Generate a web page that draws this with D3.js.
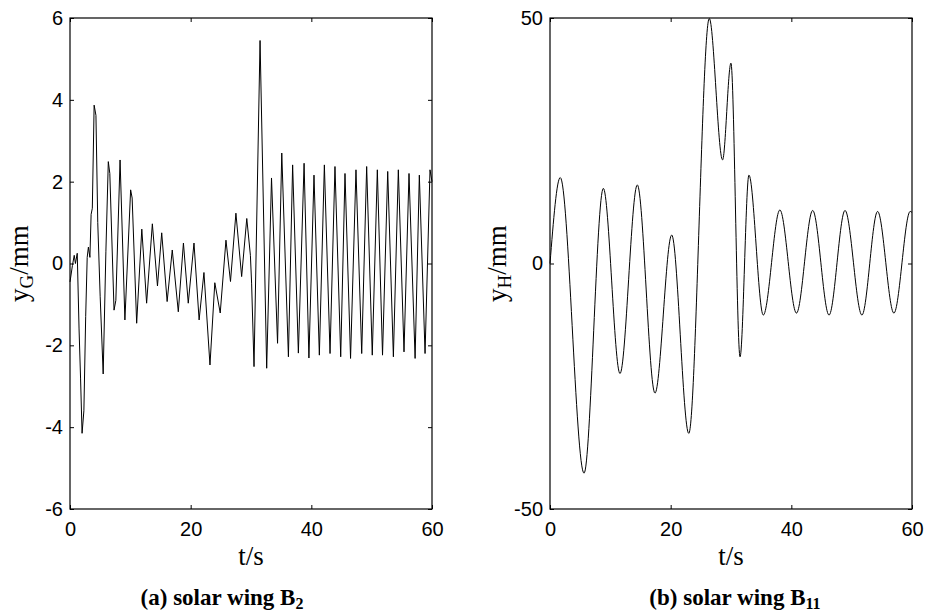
<!DOCTYPE html>
<html>
<head>
<meta charset="utf-8">
<script src="https://cdn.jsdelivr.net/npm/d3@7"></script>
<style>
  html, body { margin: 0; padding: 0; background: #fff; }
  svg { display: block; }
</style>
</head>
<body>
<svg id="chart" width="930" height="613"></svg>
<script>
// ---- data ----
const xTicks = [0, 20, 40, 60];
const yTicksA = [-6, -4, -2, 0, 2, 4, 6];
const yTicksB = [-50, 0, 50];

// (a) solar wing B2 : y_G (mm) vs t (s)
const tA = [0,0.4,0.7,0.9,1.2,1.5,1.75,2.0,2.3,2.6,2.85,3.05,3.3,3.5,3.7,4.0,4.3,4.6,5.0,5.5,5.95,6.35,6.6,7.3,7.6,8.3,9.1,10.05,10.3,11.05,11.9,12.7,13.65,14.5,15.2,16.1,16.95,17.95,18.8,19.6,20.55,21.4,22.2,23.2,24.0,24.9,25.85,26.6,27.5,28.45,29.3,29.9,30.1,30.5,31.5,32.6,33.4,34.4,35.1,36.2,36.9,37.85,38.8,39.6,40.44,41.33,42.16,43.1,43.92,44.87,45.58,46.5,47.4,48.35,49.17,50.1,50.94,51.8,52.66,53.6,54.42,55.36,56.19,57.2,57.9,58.85,59.67,60];
const yA = [-0.45,-0.05,0.2,0.0,0.25,-1.6,-2.8,-4.15,-3.6,-1.3,0.15,0.4,0.15,1.2,1.35,3.87,3.62,1.0,-0.8,-2.7,0.3,2.49,2.2,-1.14,-0.9,2.53,-1.38,1.8,1.6,-1.46,0.84,-0.97,0.97,-0.55,0.75,-0.93,0.33,-1.18,0.5,-0.97,0.5,-1.38,-0.22,-2.48,-0.47,-1.21,0.57,-0.44,1.23,-0.32,1.1,0.2,-0.48,-2.52,5.45,-2.56,2.09,-1.95,2.7,-2.28,2.41,-2.19,2.45,-2.31,2.16,-2.24,2.41,-2.2,2.37,-2.28,2.2,-2.32,2.29,-2.2,2.37,-2.24,2.29,-2.24,2.25,-2.28,2.29,-2.16,2.2,-2.32,2.16,-2.2,2.29,2.0];

// (b) solar wing B11 : y_H (mm) vs t (s)
const tB = [0,1.7,5.64,8.84,11.6,14.47,17.4,20.17,23.0,26.4,28.6,29.99,31.5,32.97,35.35,38.1,40.85,43.54,46.25,48.9,51.7,54.3,57.0,59.7,60];
const yB = [0,17.5,-42.7,15.3,-22.4,16.0,-26.4,5.8,-34.6,49.9,21.1,40.8,-19.0,18.0,-10.5,10.9,-10.1,10.8,-10.5,10.8,-10.5,10.6,-10.1,10.6,10.4];

const svg = d3.select("#chart");
const fmt = d => String(d);   // plain hyphen-minus like the reference

function panel(cfg) {
  const g = svg.append("g");
  const x = d3.scaleLinear().domain([0, 60]).range([cfg.x0, cfg.x1]);
  const y = d3.scaleLinear().domain(cfg.yDomain).range([cfg.y1, cfg.y0]);

  const pts = cfg.t.map((t, i) => [t, cfg.v[i]]);
  g.append("path")
    .datum(pts)
    .attr("fill", "none")
    .attr("stroke", "#000")
    .attr("stroke-width", 1)
    .attr("d", d3.line().x(d => x(d[0])).y(d => y(d[1])).curve(cfg.curve));

  const tickFont = (sel) => sel.selectAll("text")
    .attr("font-family", "'Liberation Sans', Arial, sans-serif")
    .attr("font-size", 20)
    .attr("fill", "#000");

  const ax = g.append("g").attr("transform", `translate(0,${cfg.y1})`)
    .call(d3.axisBottom(x).tickValues(xTicks).tickSizeInner(-4).tickSizeOuter(0).tickPadding(13).tickFormat(fmt));
  ax.select(".domain").remove();
  tickFont(ax);
  const axT = g.append("g").attr("transform", `translate(0,${cfg.y0})`)
    .call(d3.axisTop(x).tickValues(xTicks).tickSizeInner(-4).tickSizeOuter(0).tickFormat(""));
  axT.select(".domain").remove();
  const ay = g.append("g").attr("transform", `translate(${cfg.x0},0)`)
    .call(d3.axisLeft(y).tickValues(cfg.yTicks).tickSizeInner(-4).tickSizeOuter(0).tickPadding(7).tickFormat(fmt));
  ay.select(".domain").remove();
  tickFont(ay);
  const ayR = g.append("g").attr("transform", `translate(${cfg.x1},0)`)
    .call(d3.axisRight(y).tickValues(cfg.yTicks).tickSizeInner(-4).tickSizeOuter(0).tickFormat(""));
  ayR.select(".domain").remove();

  g.selectAll(".tick line").attr("stroke", "#000");

  g.append("rect")
    .attr("x", cfg.x0).attr("y", cfg.y0)
    .attr("width", cfg.x1 - cfg.x0).attr("height", cfg.y1 - cfg.y0)
    .attr("fill", "none").attr("stroke", "#000").attr("stroke-width", 1.2);

  g.append("text")
    .attr("x", (cfg.x0 + cfg.x1) / 2).attr("y", 565)
    .attr("text-anchor", "middle")
    .attr("font-family", "'Liberation Serif', 'Times New Roman', serif")
    .attr("font-size", 27)
    .text("t/s");

  const yt = g.append("text")
    .attr("transform", `translate(${cfg.yTitleX},${(cfg.y0 + cfg.y1) / 2}) rotate(-90)`)
    .attr("text-anchor", "middle")
    .attr("font-family", "'Liberation Serif', 'Times New Roman', serif")
    .attr("font-size", 27);
  yt.append("tspan").text("y");
  yt.append("tspan").attr("font-size", 19).attr("dy", 5).text(cfg.sub);
  yt.append("tspan").attr("dy", -5).text("/mm");

  const cap = g.append("text")
    .attr("x", cfg.capX).attr("y", 605)
    .attr("text-anchor", "middle")
    .attr("font-family", "'Liberation Serif', 'Times New Roman', serif")
    .attr("font-weight", "bold")
    .attr("font-size", 23);
  cap.append("tspan").text(cfg.capText);
  cap.append("tspan").attr("font-size", 16).attr("dy", 4).text(cfg.capSub);
}

panel({ x0: 70, x1: 432, y0: 18, y1: 509, yDomain: [-6, 6], yTicks: yTicksA,
        t: tA, v: yA, curve: d3.curveLinear, sub: "G", yTitleX: 28,
        capX: 222, capText: "(a) solar wing B", capSub: "2" });
panel({ x0: 550, x1: 912, y0: 18, y1: 509, yDomain: [-50, 50], yTicks: yTicksB,
        t: tB, v: yB, curve: d3.curveMonotoneX, sub: "H", yTitleX: 506,
        capX: 735, capText: "(b) solar wing B", capSub: "11" });
</script>
</body>
</html>
